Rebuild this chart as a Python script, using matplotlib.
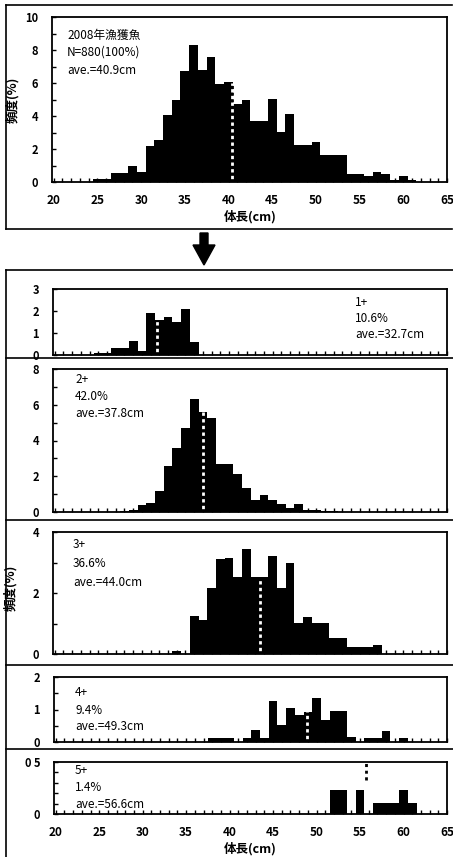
import matplotlib
matplotlib.use('Agg')
import matplotlib.pyplot as plt
from matplotlib.lines import Line2D
from matplotlib.patches import Polygon
from matplotlib.ticker import MultipleLocator

plt.rcParams['font.family'] = ['Noto Sans CJK JP', 'DejaVu Sans']

W, H = 453, 857

# 体長階級 (cm)
bins = list(range(20, 65))

# 頻度 (%), one value per 1 cm class (20..64)
all_fish = [0, 0, 0, 0, 0, 0.18, 0.18, 0.53, 0.53, 0.95,
            0.63, 2.2, 2.57, 4.04, 4.95, 6.7, 8.28, 6.8, 7.6, 5.94,
            6.04, 4.73, 4.95, 3.72, 3.72, 5.05, 3.03, 4.14, 2.22, 2.22,
            2.4, 1.66, 1.66, 1.66, 0.5, 0.5, 0.38, 0.6, 0.48, 0.14,
            0.36, 0.11, 0, 0, 0]
age1 = [0, 0, 0, 0, 0, 0.08, 0.08, 0.33, 0.33, 0.65,
        0.18, 1.9, 1.6, 1.75, 1.52, 2.1, 0.58, 0, 0, 0,
        0, 0, 0, 0, 0, 0, 0, 0, 0, 0,
        0, 0, 0, 0, 0, 0, 0, 0, 0, 0,
        0, 0, 0, 0, 0]
age2 = [0, 0, 0, 0, 0, 0, 0, 0, 0.05, 0.09,
        0.37, 0.5, 1.16, 2.57, 3.6, 4.72, 6.3, 5.6, 5.28, 2.66,
        2.66, 2.15, 1.35, 0.69, 0.94, 0.69, 0.47, 0.22, 0.47, 0.09,
        0.09, 0.03, 0.03, 0, 0, 0, 0, 0, 0, 0,
        0, 0, 0, 0, 0]
age3 = [0, 0, 0, 0, 0, 0, 0, 0, 0, 0,
        0, 0, 0, 0, 0.11, 0, 1.23, 1.12, 2.17, 3.1,
        3.16, 2.51, 3.43, 2.51, 2.51, 3.22, 2.17, 2.99, 1.03, 1.2,
        1.03, 1.03, 0.52, 0.52, 0.22, 0.22, 0.22, 0.28, 0, 0,
        0, 0, 0, 0, 0]
age4 = [0, 0, 0, 0, 0, 0, 0, 0, 0, 0,
        0, 0, 0, 0, 0, 0, 0, 0, 0.11, 0.11,
        0.11, 0, 0.11, 0.36, 0.13, 1.26, 0.51, 1.05, 0.84, 0.93,
        1.36, 0.69, 0.95, 0.95, 0.14, 0, 0.11, 0.11, 0.34, 0,
        0.11, 0, 0, 0, 0]
age5 = [0, 0, 0, 0, 0, 0, 0, 0, 0, 0,
        0, 0, 0, 0, 0, 0, 0, 0, 0, 0,
        0, 0, 0, 0, 0, 0, 0, 0, 0, 0,
        0, 0, 0.23, 0.23, 0, 0.23, 0, 0.11, 0.11, 0.11,
        0.23, 0.11, 0, 0, 0]

labels = [['2008年漁獲魚', 'N=880(100%)', 'ave.=40.9cm'],
          ['1+', '10.6%', 'ave.=32.7cm'],
          ['2+', '42.0%', 'ave.=37.8cm'],
          ['3+', '36.6%', 'ave.=44.0cm'],
          ['4+', '9.4%', 'ave.=49.3cm'],
          ['5+', '1.4%', 'ave.=56.6cm']]
series = [all_fish, age1, age2, age3, age4, age5]

# mean line (x, y from, y to) as it sits in the picture
mean_x = [40.45, 31.75, 37.05, 43.5, 48.85, 55.65]
mean_y = [(0, 6.0), (0, 1.6), (0, 5.6), (0, 2.5), (0, 0.95), (0.33, 0.5)]

ymax = [10, 3, 8, 4, 2, 0.5]
ymajor = [2, 1, 2, 2, 1, 0.5]
yminor = [1, 1, 1, 1, 0.5, 0.1]
ytick_text = [None, None, None, None, None, ['0', '0 5']]

# axes boxes in pixels: left, top, right, bottom
boxes = [(52, 17, 447, 182), (53, 289, 447, 355), (53, 369, 447, 512),
         (53, 532, 447, 654), (54, 677, 447, 742), (54, 762, 447, 814)]
# text anchor (x, first line y) and line spacing, pixels
text_pos = [(67, 35, 17.5), (355, 303, 15.5), (75, 380, 16.5),
            (73, 545, 18.5), (75, 693, 17), (75, 770, 17.5)]

fig = plt.figure(figsize=(W / 100, H / 100), dpi=100)

for i in range(6):
    l, t, r, b = boxes[i]
    ax = fig.add_axes([l / W, 1 - b / H, (r - l) / W, (b - t) / H])
    ax.bar(bins, series[i], width=1.0, color='black', linewidth=0)
    x = mean_x[i]
    y0, y1 = mean_y[i]
    ax.plot([x, x], [y0, y1], color='black', lw=2, linestyle=(0, (1.2, 1.2)),
            solid_capstyle='butt')
    ax.plot([x, x], [y0, y1], color='white', lw=2, linestyle=(1.2, (1.2, 1.2)),
            solid_capstyle='butt')
    ax.set_xlim(19.8, 65.0)
    ax.set_ylim(0, ymax[i])
    ax.xaxis.set_major_locator(MultipleLocator(5))
    ax.xaxis.set_minor_locator(MultipleLocator(1))
    ax.yaxis.set_major_locator(MultipleLocator(ymajor[i]))
    ax.yaxis.set_minor_locator(MultipleLocator(yminor[i]))
    ax.tick_params(which='both', direction='in', length=3, width=1,
                   top=False, right=False)
    ax.tick_params(axis='y', labelsize=8, pad=10)
    ax.tick_params(axis='x', labelsize=8.5, pad=9)
    for lab in ax.get_xticklabels() + ax.get_yticklabels():
        lab.set_fontweight('bold')
    if ytick_text[i] is not None:
        ax.set_yticks([0, ymax[i]])
        ax.set_yticklabels(ytick_text[i], fontweight='bold')
    if i not in (0, 5):
        ax.tick_params(axis='x', labelbottom=False)
    for s in ax.spines.values():
        s.set_linewidth(1.3)
    tx, ty, dy = text_pos[i]
    for k, line in enumerate(labels[i]):
        fig.text(tx / W, 1 - (ty + k * dy) / H, line, fontsize=8.5,
                 ha='left', va='center')

# axis titles
fig.text(13 / W, 1 - 100 / H, '頻度(%)', rotation=90, fontsize=9,
         fontweight='bold', ha='center', va='center')
fig.text(11 / W, 1 - 588 / H, '頻度(%)', rotation=90, fontsize=9,
         fontweight='bold', ha='center', va='center')
fig.text(250 / W, 1 - 217 / H, '体長(cm)', fontsize=9, fontweight='bold',
         ha='center', va='center')
fig.text(250 / W, 1 - 849 / H, '体長(cm)', fontsize=9, fontweight='bold',
         ha='center', va='center')


def px_line(x0, y0, x1, y1, lw=1.2):
    fig.add_artist(Line2D([x0 / W, x1 / W], [1 - y0 / H, 1 - y1 / H],
                          color='black', lw=lw))


# frame around the upper chart
px_line(6, 5, 452, 5)
px_line(6, 5, 6, 229)
px_line(6, 229, 452, 229)
# frame and separators of the lower panels
px_line(6, 270, 453, 270)
px_line(6, 270, 6, 857)
for y in (358, 520, 665, 749):
    px_line(6, y, 453, y)

# arrow
arrow = [(200, 233), (208, 233), (208, 245), (215, 245), (204, 265),
         (193, 245), (200, 245)]
fig.add_artist(Polygon([(px / W, 1 - py / H) for px, py in arrow],
                       closed=True, color='black', transform=fig.transFigure))

fig.savefig('out.png', dpi=100)
